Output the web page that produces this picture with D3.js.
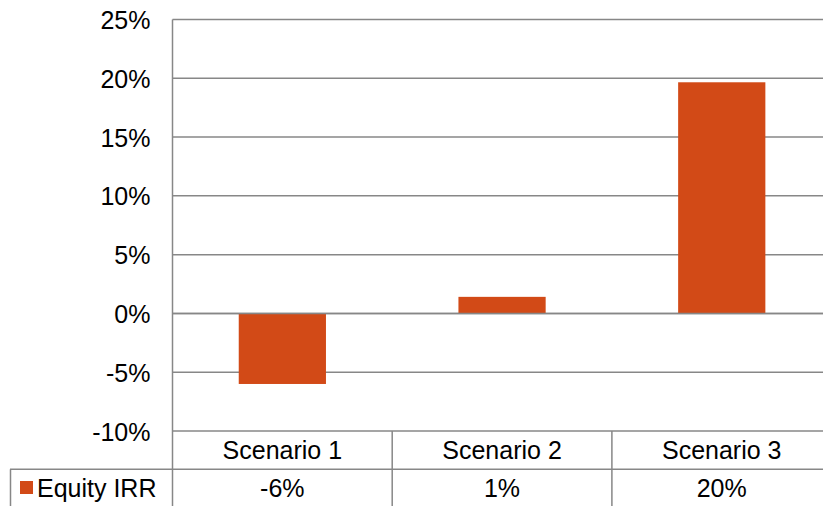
<!DOCTYPE html>
<html><head><meta charset="utf-8">
<script src="https://cdn.jsdelivr.net/npm/d3@7"></script>
<style>body{margin:0;background:#fff}svg{display:block;font-family:"Liberation Sans",Arial,sans-serif}</style>
</head><body>
<svg id="c" width="823" height="506"></svg>
<script>
const categories = ["Scenario 1", "Scenario 2", "Scenario 3"];
const seriesName = "Equity IRR";
const values = [-0.06, 0.0141, 0.1966];
const valueLabels = ["-6%", "1%", "20%"];
const yTicks = [-0.10, -0.05, 0, 0.05, 0.10, 0.15, 0.20, 0.25];

const svg = d3.select("#c");
const plotLeft = 172.5, plotRight = 831.6, plotTop = 19.5, plotBottom = 431;
const gridColor = "#878787", barColor = "#D24A17";
const fs = 25;

const y = d3.scaleLinear().domain([-0.10, 0.25]).range([plotBottom, plotTop]);
const x = d3.scaleBand().domain(categories).range([plotLeft, plotRight]).paddingInner(0).paddingOuter(0);

// gridlines
svg.append("g").selectAll("line").data(yTicks).join("line")
  .attr("x1", plotLeft).attr("x2", plotRight)
  .attr("y1", d => y(d)).attr("y2", d => y(d))
  .attr("stroke", gridColor).attr("stroke-width", 1.5);

// y axis labels
const yAxis = d3.axisLeft(y).tickValues(yTicks).tickSize(0).tickPadding(22)
  .tickFormat(d => Math.round(d * 100) + "%");
const ya = svg.append("g").attr("transform", `translate(${plotLeft},0)`).call(yAxis);
ya.select(".domain").remove();
ya.selectAll("text").attr("font-size", fs).attr("fill", "#000")
  .attr("font-family", '"Liberation Sans",Arial,sans-serif').attr("dy", "0.36em");

// bars
const bw = x.bandwidth() * 0.397;
svg.append("g").selectAll("rect").data(values).join("rect")
  .attr("x", (d, i) => x(categories[i]) + (x.bandwidth() - bw) / 2)
  .attr("width", bw)
  .attr("y", d => y(Math.max(0, d)))
  .attr("height", d => Math.abs(y(d) - y(0)))
  .attr("fill", barColor);

// zero line on top
svg.append("line").attr("x1", plotLeft).attr("x2", plotRight).attr("y1", y(0)).attr("y2", y(0))
  .attr("stroke", gridColor).attr("stroke-width", 1.5);

// axis vertical line
svg.append("line").attr("x1", plotLeft).attr("x2", plotLeft).attr("y1", plotTop).attr("y2", 506)
  .attr("stroke", gridColor).attr("stroke-width", 1.5);

// data table
const row1Top = plotBottom, row2Top = 469.3, tableBottom = 506;
const t = svg.append("g");
categories.forEach((c, i) => {
  if (i > 0) t.append("line").attr("x1", x(c)).attr("x2", x(c)).attr("y1", row1Top).attr("y2", tableBottom)
    .attr("stroke", gridColor).attr("stroke-width", 1.5);
});
t.append("line").attr("x1", 10).attr("x2", plotRight).attr("y1", row2Top).attr("y2", row2Top)
  .attr("stroke", gridColor).attr("stroke-width", 1.5);
t.append("line").attr("x1", 10.5).attr("x2", 10.5).attr("y1", row2Top).attr("y2", tableBottom)
  .attr("stroke", gridColor).attr("stroke-width", 1.5);

t.selectAll("text.cat").data(categories).join("text").attr("class", "cat")
  .attr("x", d => x(d) + x.bandwidth() / 2).attr("y", (row1Top + row2Top) / 2)
  .attr("text-anchor", "middle").attr("dy", "0.36em").attr("font-size", fs).text(d => d);
t.selectAll("text.val").data(valueLabels).join("text").attr("class", "val")
  .attr("x", (d, i) => x(categories[i]) + x.bandwidth() / 2).attr("y", 488.3)
  .attr("text-anchor", "middle").attr("dy", "0.36em").attr("font-size", fs).text(d => d);

t.append("rect").attr("x", 20).attr("y", 481).attr("width", 13).attr("height", 13).attr("fill", barColor);
t.append("text").attr("x", 37).attr("y", 488.3).attr("dy", "0.36em").attr("font-size", fs).text(seriesName);
</script>
</body></html>
